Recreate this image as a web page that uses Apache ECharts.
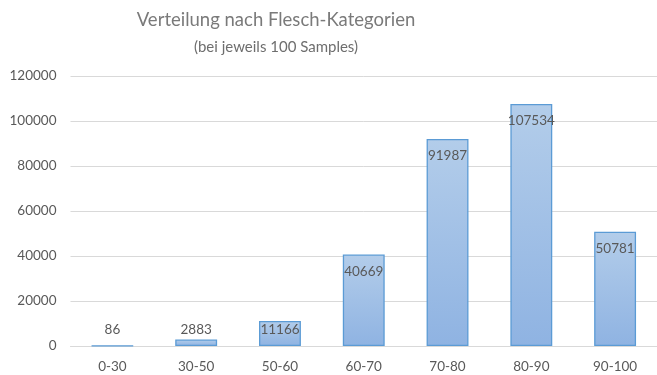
<!DOCTYPE html>
<html>
<head>
<meta charset="utf-8">
<script src="https://cdn.jsdelivr.net/npm/echarts@6/dist/echarts.min.js"></script>
<style>
  html, body { margin: 0; padding: 0; background: #fff; }
  #chart { width: 657px; height: 375px; }
</style>
</head>
<body>
<div id="chart"></div>
<script>
// Flesch reading-ease buckets and how many texts fell into each
const categories = ['0-30', '30-50', '50-60', '60-70', '70-80', '80-90', '90-100'];
const counts = [86, 2883, 11166, 40669, 91987, 107534, 50781];
const yTicks = [0, 20000, 40000, 60000, 80000, 100000, 120000];

const FONT = 'Lato, "Open Sans", sans-serif';
const chart = echarts.init(document.getElementById('chart'), null, { renderer: 'canvas' });

const barFill = new echarts.graphic.LinearGradient(0, 0, 0, 1, [
  { offset: 0, color: '#b3cdea' },
  { offset: 1, color: '#8fb3e2' }
]);

function buildOption(labelOffsets) {
  return {
    animation: false,
    backgroundColor: '#ffffff',
    title: [
      {
        text: 'Verteilung nach Flesch-Kategorien',
        left: 271, top: 6, textAlign: 'center',
        textStyle: { fontFamily: FONT, fontSize: 18.5, fontWeight: 'normal', color: '#7a7a7a' }
      },
      {
        text: '(bei jeweils 100 Samples)',
        left: 271, top: 35, textAlign: 'center',
        textStyle: { fontFamily: FONT, fontSize: 15, fontWeight: 'normal', color: '#6e6e6e' }
      }
    ],
    grid: { left: 70.5, top: 76, width: 595, height: 270, containLabel: false },
    xAxis: {
      type: 'category',
      data: categories,
      axisLine: { show: true, lineStyle: { color: '#d9d9d9', width: 1 } },
      axisTick: { show: false },
      axisLabel: { fontFamily: FONT, fontSize: 13.5, color: '#595959', margin: 14 }
    },
    yAxis: {
      type: 'value',
      min: yTicks[0],
      max: yTicks[yTicks.length - 1],
      interval: yTicks[1] - yTicks[0],
      axisLine: { show: false },
      axisTick: { show: false },
      splitLine: { lineStyle: { color: '#d9d9d9', width: 1 } },
      axisLabel: {
        fontFamily: FONT, fontSize: 13.5, color: '#595959', margin: 14,
        formatter: v => String(v)
      }
    },
    series: [{
      type: 'bar',
      data: counts.map((v, i) => ({
        value: v,
        label: { position: ['50%', labelOffsets ? labelOffsets[i] : 17] }
      })),
      barWidth: '50%',
      itemStyle: { color: barFill, borderColor: '#5b9bd5', borderWidth: 1.3 },
      label: {
        show: true,
        align: 'center',
        verticalAlign: 'middle',
        fontFamily: FONT, fontSize: 13.5, color: '#595959'
      }
    }]
  };
}

chart.setOption(buildOption(null));

// Labels sit just inside the top of each bar, but never lower than a
// fixed distance above the baseline (short bars carry them above).
const base = chart.convertToPixel({ yAxisIndex: 0 }, 0);
const offsets = counts.map(v => {
  const top = chart.convertToPixel({ yAxisIndex: 0 }, v);
  const h = base - top;
  return Math.min(17, h - 16);
});
chart.setOption(buildOption(offsets));
</script>
</body>
</html>
